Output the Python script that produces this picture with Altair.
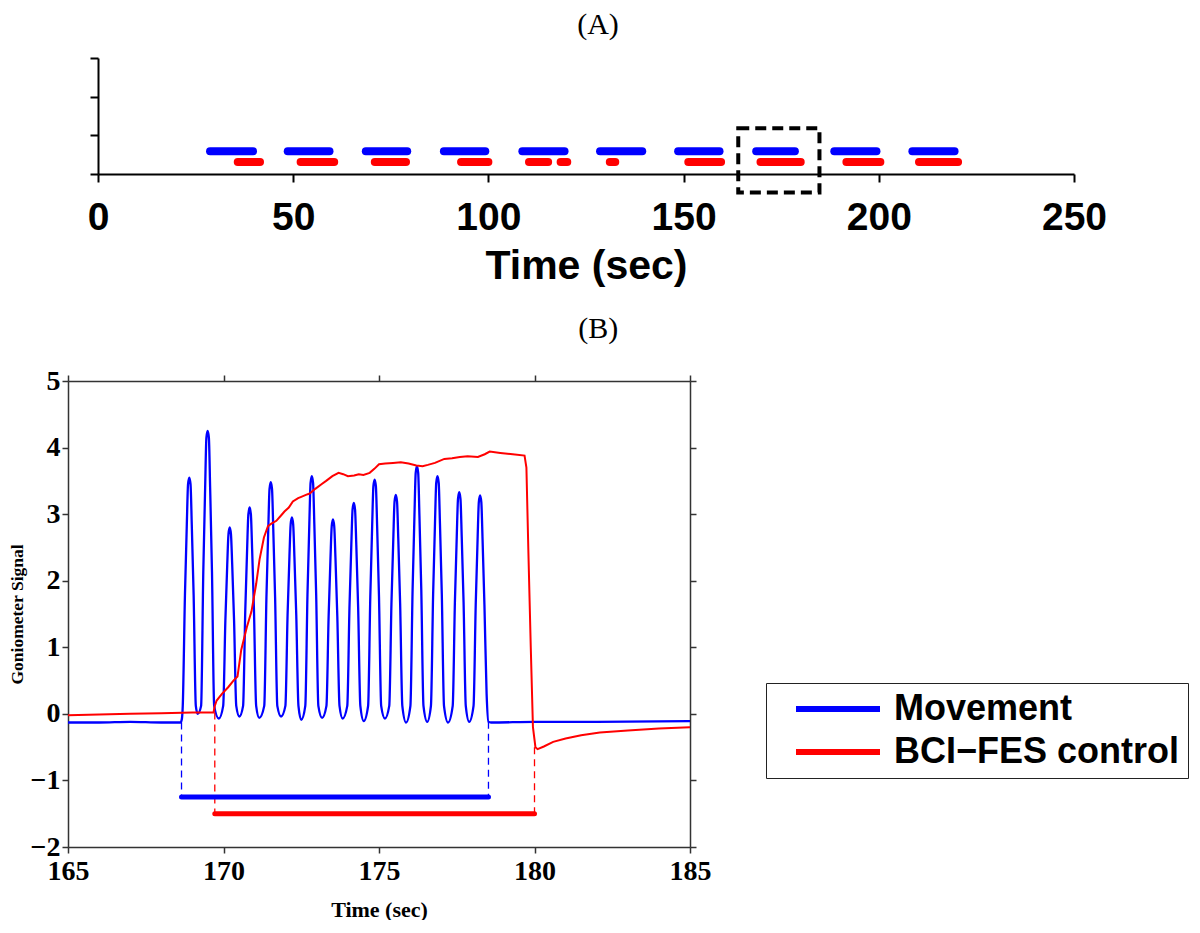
import altair as alt
import pandas as pd

BLUE = "#0000ff"
RED = "#ff0000"
SERIES = ["Movement", "BCI\u2212FES control"]

# ---------------- Panel (A): session overview ----------------
move_start = [28.7, 48.6, 68.6, 88.6, 108.7, 128.6, 148.6, 168.6, 188.6, 208.6]
move_end = [39.7, 59.3, 79.2, 99.2, 119.5, 139.4, 159.2, 178.5, 199.4, 219.4]
fes_start = [35.8, 51.9, 70.9, 93.0, 110.4, 118.5, 131.1, 151.2, 169.7, 191.7, 210.3]
fes_end = [41.5, 60.5, 78.9, 100.0, 115.3, 120.2, 132.5, 159.6, 180.0, 200.4, 220.3]
move_row = 0.59
fes_row = 0.31
box_x = [164.0, 184.8]
box_y = [-0.48, 1.18]
a_xticks = [0, 50, 100, 150, 200, 250]
a_yticks = [0, 1, 2, 3]

# ---------------- Panel (B): zoomed goniometer signal ----------------
blue_t = [
    165.0, 166.0, 167.0, 168.0, 168.62, 168.66,
    168.69, 168.76, 168.82, 168.86, 168.90, 168.94, 168.98, 169.04, 169.11,
    169.17,
    169.28, 169.35, 169.41, 169.45, 169.49, 169.53, 169.57, 169.63, 169.70,
    169.85,
    169.99, 170.06, 170.12, 170.16, 170.20, 170.24, 170.28, 170.34, 170.41,
    170.51,
    170.63, 170.70, 170.76, 170.80, 170.84, 170.88, 170.92, 170.98, 171.05,
    171.15,
    171.31, 171.38, 171.44, 171.48, 171.52, 171.56, 171.60, 171.66, 171.73,
    171.85,
    171.99, 172.06, 172.12, 172.16, 172.20, 172.24, 172.28, 172.34, 172.41,
    172.50,
    172.63, 172.70, 172.76, 172.80, 172.84, 172.88, 172.92, 172.98, 173.05,
    173.17,
    173.31, 173.38, 173.44, 173.48, 173.52, 173.56, 173.60, 173.66, 173.73,
    173.83,
    173.98, 174.05, 174.11, 174.15, 174.19, 174.23, 174.27, 174.33, 174.40,
    174.51,
    174.65, 174.72, 174.78, 174.82, 174.86, 174.90, 174.94, 175.00, 175.07,
    175.19,
    175.33, 175.40, 175.46, 175.50, 175.54, 175.58, 175.62, 175.68, 175.75,
    175.87,
    176.01, 176.08, 176.14, 176.18, 176.22, 176.26, 176.30, 176.36, 176.43,
    176.55,
    176.67, 176.74, 176.80, 176.84, 176.88, 176.92, 176.96, 177.02, 177.09,
    177.22,
    177.37, 177.44, 177.50, 177.54, 177.58, 177.62, 177.66, 177.72, 177.79,
    177.90,
    178.04, 178.11, 178.17, 178.21, 178.25, 178.29, 178.33, 178.39, 178.46, 178.52,
    178.60, 180.0, 182.0, 185.0,
]
blue_v = [
    -0.13, -0.13, -0.12, -0.13, -0.13, -0.08,
    0.12, 1.78, 2.84, 3.45, 3.55, 3.45, 2.84, 1.78, 0.12,
    0.00,
    0.12, 2.13, 3.40, 4.15, 4.25, 4.15, 3.40, 2.13, 0.12,
    -0.07,
    0.12, 1.40, 2.24, 2.70, 2.80, 2.70, 2.24, 1.40, 0.12,
    -0.04,
    0.12, 1.55, 2.48, 3.00, 3.10, 3.00, 2.48, 1.55, 0.12,
    -0.06,
    0.12, 1.74, 2.78, 3.38, 3.48, 3.38, 2.78, 1.74, 0.12,
    -0.04,
    0.12, 1.48, 2.36, 2.85, 2.95, 2.85, 2.36, 1.48, 0.12,
    -0.09,
    0.12, 1.79, 2.86, 3.47, 3.57, 3.47, 2.86, 1.79, 0.12,
    -0.06,
    0.12, 1.46, 2.34, 2.82, 2.92, 2.82, 2.34, 1.46, 0.12,
    -0.07,
    0.12, 1.59, 2.54, 3.07, 3.17, 3.07, 2.54, 1.59, 0.12,
    -0.11,
    0.12, 1.76, 2.82, 3.42, 3.52, 3.42, 2.82, 1.76, 0.12,
    -0.07,
    0.12, 1.65, 2.63, 3.19, 3.29, 3.19, 2.63, 1.65, 0.12,
    -0.13,
    0.12, 1.86, 2.98, 3.62, 3.72, 3.62, 2.98, 1.86, 0.12,
    -0.12,
    0.12, 1.79, 2.86, 3.47, 3.57, 3.47, 2.86, 1.79, 0.12,
    -0.13,
    0.12, 1.67, 2.66, 3.23, 3.33, 3.23, 2.66, 1.67, 0.12,
    -0.12,
    0.12, 1.64, 2.62, 3.18, 3.28, 3.18, 2.62, 1.64, 0.30, -0.12,
    -0.13, -0.12, -0.12, -0.11,
]
red_t = [
    165.0, 166.0, 167.0, 168.0, 169.0, 169.68, 169.72, 169.78, 169.95, 170.15,
    170.32, 170.45, 170.57, 170.75, 170.9, 171.05, 171.16, 171.3, 171.43, 171.55,
    171.7, 171.85, 171.96, 172.1, 172.23, 172.4, 172.5, 172.65, 172.77, 172.95,
    173.15, 173.3, 173.5, 173.7, 173.85, 174.0, 174.2, 174.35, 174.5, 174.7,
    174.85, 175.0, 175.2, 175.45, 175.7, 175.95, 176.2, 176.4, 176.57, 176.8,
    177.1, 177.35, 177.6, 177.85, 178.18, 178.4, 178.56, 178.9, 179.3, 179.68,
    179.74, 179.8, 179.88, 179.95, 180.03, 180.1, 180.3, 180.6, 181.0, 181.5,
    182.1, 183.0, 184.0, 185.0,
]
red_v = [
    -0.02, -0.01, 0.0, 0.01, 0.02, 0.02, 0.12, 0.2, 0.3, 0.4,
    0.5, 0.56, 0.96, 1.3, 1.54, 1.95, 2.32, 2.65, 2.82, 2.86,
    2.9, 2.98, 3.04, 3.1, 3.19, 3.24, 3.26, 3.29, 3.31, 3.38,
    3.45, 3.5, 3.57, 3.62, 3.6, 3.57, 3.58, 3.6, 3.59, 3.62,
    3.68, 3.75, 3.76, 3.77, 3.78, 3.76, 3.73, 3.72, 3.74, 3.77,
    3.83, 3.84, 3.86, 3.87, 3.86, 3.9, 3.94, 3.92, 3.9, 3.88,
    3.7, 2.5, 1.0, -0.2, -0.5, -0.53, -0.49, -0.42, -0.37, -0.32,
    -0.28, -0.25, -0.22, -0.2,
]
move_edges = [168.65, 178.52]
move_edge_top = [-0.13, -0.12]
move_bar = -1.25
fes_edges = [169.72, 180.0]
fes_edge_top = [0.02, -0.5]
fes_bar = -1.5
b_xticks = [165, 170, 175, 180, 185]
b_yticks = [-2, -1, 0, 1, 2, 3, 4, 5]

# ================= Panel A =================
dfA_m = pd.DataFrame({"start": move_start, "end": move_end, "row": move_row})
dfA_f = pd.DataFrame({"start": fes_start, "end": fes_end, "row": fes_row})
dfA_box = pd.DataFrame({"x1": [box_x[0]], "x2": [box_x[1]], "y1": [box_y[0]], "y2": [box_y[1]]})

A_W = 1006
A_SHIFT = 30
xA = alt.Scale(domain=[0, 250], nice=False, range=[A_SHIFT, A_W])
yA = alt.Scale(domain=[0, 3], nice=False)
axis_xA = alt.Axis(
    values=a_xticks, title="Time (sec)", grid=False,
    labelFont="Liberation Sans", labelFontWeight="bold", labelFontSize=39,
    labelColor="black", labelPadding=16, labelFlush=False, labelOverlap=False,
    titleFont="Liberation Sans", titleFontWeight="bold", titleFontSize=41,
    titleColor="black", titlePadding=9, titleX=A_SHIFT + (A_W - A_SHIFT) / 2,
    domainColor="black", domainWidth=2, tickColor="black", tickWidth=2, tickSize=8,
)
axis_yA = alt.Axis(
    values=a_yticks, labels=False, title=None, grid=False, offset=-A_SHIFT,
    domainColor="black", domainWidth=2, tickColor="black", tickWidth=2, tickSize=8,
)

mA = alt.Chart(dfA_m).mark_rule(color=BLUE, strokeWidth=8, strokeCap="round").encode(
    x=alt.X("start:Q", scale=xA, axis=axis_xA), x2="end:Q",
    y=alt.Y("row:Q", scale=yA, axis=axis_yA),
)
fA = alt.Chart(dfA_f).mark_rule(color=RED, strokeWidth=8, strokeCap="round").encode(
    x=alt.X("start:Q", scale=xA, axis=axis_xA), x2="end:Q",
    y=alt.Y("row:Q", scale=yA, axis=axis_yA),
)
boxA = alt.Chart(dfA_box).mark_rect(
    fillOpacity=0, stroke="black", strokeWidth=4, strokeDash=[11, 6]
).encode(
    x=alt.X("x1:Q", scale=xA, axis=axis_xA), x2="x2:Q",
    y=alt.Y("y1:Q", scale=yA, axis=axis_yA), y2="y2:Q",
)
panelA = alt.layer(mA, fA, boxA).properties(
    width=A_W, height=116,
    title=alt.TitleParams(
        "(A)", font="Liberation Serif", fontSize=30, fontWeight="normal",
        color="black", anchor="middle", frame="group", dx=27, offset=17,
    ),
)

# ================= Panel B =================
dfB_blue = pd.DataFrame({"t": blue_t, "v": blue_v, "series": SERIES[0]})
dfB_red = pd.DataFrame({"t": red_t, "v": red_v, "series": SERIES[1]})
dfB_dash = pd.DataFrame({
    "t": move_edges + fes_edges,
    "top": move_edge_top + fes_edge_top,
    "bottom": [move_bar, move_bar, fes_bar, fes_bar],
    "series": [SERIES[0], SERIES[0], SERIES[1], SERIES[1]],
})
dfB_bar = pd.DataFrame({
    "start": [move_edges[0], fes_edges[0]],
    "end": [move_edges[1], fes_edges[1]],
    "level": [move_bar, fes_bar],
    "series": SERIES,
})

xB = alt.Scale(domain=[165, 185], nice=False)
yB = alt.Scale(domain=[-2, 5], nice=False)
cB = alt.Scale(domain=SERIES, range=[BLUE, RED])
legB = alt.Legend(
    title=None, orient="none", legendX=698, legendY=302, direction="vertical",
    symbolType="M-4,0L4,0", symbolSize=441, symbolStrokeWidth=6,
    symbolOffset=46, labelOffset=38,
    labelFont="Liberation Sans", labelFontWeight="bold", labelFontSize=36,
    labelColor="black", labelLimit=600,
    strokeColor="#222222", fillColor="white", padding=8, rowPadding=7,
)
axc = dict(domainColor="#333333", domainWidth=1.5, tickColor="#333333",
           tickWidth=1.5, tickSize=6, grid=False)
ax_xB = alt.Axis(
    values=b_xticks, orient="bottom", title="Time (sec)",
    labelFont="Liberation Serif", labelFontWeight="bold", labelFontSize=28,
    labelColor="black", labelPadding=4, labelFlush=False,
    titleFont="Liberation Serif", titleFontWeight="bold", titleFontSize=22,
    titleColor="black", titlePadding=14, **axc,
)
ax_xB_top = alt.Axis(values=b_xticks, orient="top", labels=False, title=None, **axc)
ax_yB = alt.Axis(
    values=b_yticks, orient="left", title="Goniometer Signal",
    labelFont="Liberation Serif", labelFontWeight="bold", labelFontSize=28,
    labelColor="black", labelPadding=2,
    titleFont="Liberation Serif", titleFontWeight="bold", titleFontSize=17.5,
    titleColor="black", titlePadding=2, minExtent=40, maxExtent=40, **axc,
)
ax_yB_right = alt.Axis(values=b_yticks, orient="right", labels=False, title=None, **axc)

blueL = alt.Chart(dfB_blue).mark_line(strokeWidth=2.3, interpolate="monotone").encode(
    x=alt.X("t:Q", scale=xB, axis=ax_xB),
    y=alt.Y("v:Q", scale=yB, axis=ax_yB),
    color=alt.Color("series:N", scale=cB, legend=legB),
)
redL = alt.Chart(dfB_red).mark_line(strokeWidth=2).encode(
    x=alt.X("t:Q", scale=xB, axis=ax_xB_top),
    y=alt.Y("v:Q", scale=yB, axis=ax_yB_right),
    color=alt.Color("series:N", scale=cB, legend=None),
)
dashL = alt.Chart(dfB_dash).mark_rule(strokeWidth=1.3, strokeDash=[7, 5]).encode(
    x=alt.X("t:Q", scale=xB, axis=None),
    y=alt.Y("top:Q", scale=yB, axis=None), y2="bottom:Q",
    color=alt.Color("series:N", scale=cB, legend=None),
)
barL = alt.Chart(dfB_bar).mark_rule(strokeWidth=5, strokeCap="round").encode(
    x=alt.X("start:Q", scale=xB, axis=None), x2="end:Q",
    y=alt.Y("level:Q", scale=yB, axis=None),
    color=alt.Color("series:N", scale=cB, legend=None),
)
panelB = alt.layer(blueL, dashL, barL, redL).resolve_axis(
    x="independent", y="independent"
).properties(
    width=622, height=466,
    title=alt.TitleParams(
        "(B)", font="Liberation Serif", fontSize=30, fontWeight="normal",
        color="black", anchor="middle", frame="bounds", offset=23,
    ),
)

chart = alt.vconcat(panelA, panelB, spacing=28).resolve_scale(
    color="independent"
).resolve_legend(color="independent").properties(
    padding={"top": 2, "left": 0, "right": 0, "bottom": 0}, background="white"
).configure_view(stroke="transparent", strokeWidth=0)

chart.save("out.html", embed_options={"renderer": "svg", "actions": False})
